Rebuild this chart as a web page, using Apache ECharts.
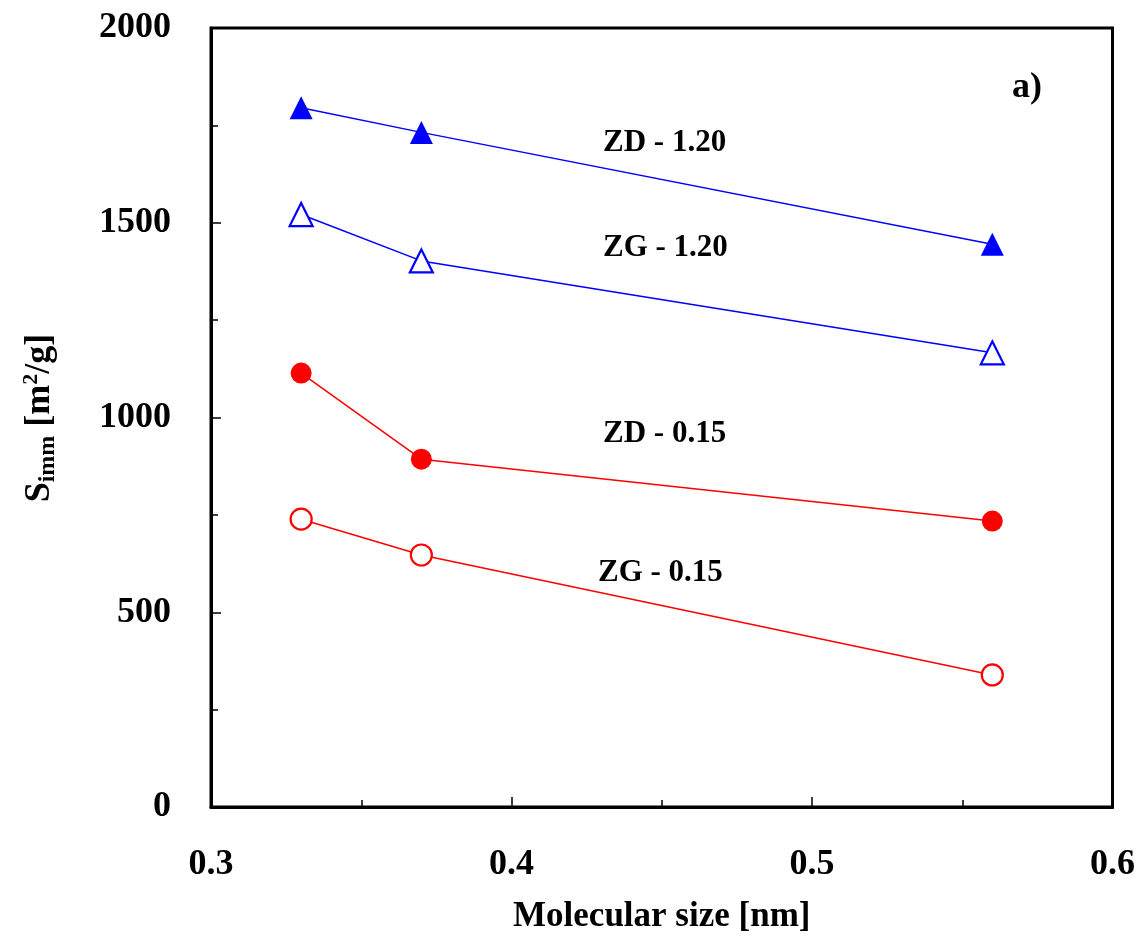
<!DOCTYPE html>
<html>
<head>
<meta charset="utf-8">
<script src="https://cdn.jsdelivr.net/npm/echarts@6/dist/echarts.min.js"></script>
<style>html,body{margin:0;padding:0;background:#fff;}#c{width:1138px;height:941px;}</style>
</head>
<body>
<div id="c"></div>
<script>
const xValues = [0.33, 0.37, 0.56];
const zd120 = [1795, 1732, 1445];
const zg120 = [1521, 1402, 1166];
const zd015 = [1114, 893, 734];
const zg015 = [739, 647, 339];
const seriesNames = ['ZD - 1.20', 'ZG - 1.20', 'ZD - 0.15', 'ZG - 0.15'];
const xTitle = 'Molecular size [nm]';
const panelLabel = 'a)';

const FONT = '"Liberation Serif", "Times New Roman", serif';
const chart = echarts.init(document.getElementById('c'), null, {renderer: 'canvas'});

function pts(ys) { return xValues.map((x, i) => [x, ys[i]]); }

function mk(name, ys, color, symbol, filled) {
  return {
    name: name, type: 'line', data: pts(ys),
    symbol: symbol, symbolSize: symbol === 'triangle' ? 23 : 21,
    lineStyle: {color: color, width: 1.5},
    itemStyle: filled ? {color: color, borderColor: color, borderWidth: 0}
                      : {color: '#fff', borderColor: color, borderWidth: 2.2},
    emphasis: {disabled: true}, z: 3
  };
}

const option = {
  animation: false,
  backgroundColor: '#fff',
  grid: {left: 211, right: 25, top: 28, bottom: 134, show: true, borderColor: '#000', borderWidth: 3},
  xAxis: {
    type: 'value', min: 0.3, max: 0.6, interval: 0.1,
    axisLine: {show: true, lineStyle: {color: '#000', width: 3}},
    axisTick: {show: true, inside: true, length: 10, lineStyle: {color: '#000', width: 1.5}},
    minorTick: {show: true, splitNumber: 2, length: 7, lineStyle: {color: '#000', width: 1.5}},
    splitLine: {show: false},
    axisLabel: {color: '#000', fontFamily: FONT, fontWeight: 'bold', fontSize: 36, margin: 40,
      formatter: v => v.toFixed(1)},
    name: xTitle, nameLocation: 'middle', nameGap: 92,
    nameTextStyle: {color: '#000', fontFamily: FONT, fontWeight: 'bold', fontSize: 35}
  },
  yAxis: {
    type: 'value', min: 0, max: 2000, interval: 500,
    axisLine: {show: true, lineStyle: {color: '#000', width: 3}},
    axisTick: {show: true, inside: true, length: 10, lineStyle: {color: '#000', width: 1.5}},
    minorTick: {show: true, splitNumber: 2, length: 7, lineStyle: {color: '#000', width: 1.5}},
    splitLine: {show: false},
    axisLabel: {color: '#000', fontFamily: FONT, fontWeight: 'bold', fontSize: 36, margin: 40,
      formatter: v => String(v)}
  },
  series: [
    mk(seriesNames[0], zd120, '#0000ff', 'triangle', true),
    mk(seriesNames[1], zg120, '#0000ff', 'triangle', false),
    mk(seriesNames[2], zd015, '#ff0000', 'circle', true),
    mk(seriesNames[3], zg015, '#ff0000', 'circle', false)
  ],
  graphic: [
    {type: 'text', left: 603, top: 127, style: {text: seriesNames[0], font: 'bold 31px ' + FONT, fill: '#000'}},
    {type: 'text', left: 603, top: 232, style: {text: seriesNames[1], font: 'bold 31px ' + FONT, fill: '#000'}},
    {type: 'text', left: 603, top: 418, style: {text: seriesNames[2], font: 'bold 31px ' + FONT, fill: '#000'}},
    {type: 'text', left: 598, top: 557, style: {text: seriesNames[3], font: 'bold 31px ' + FONT, fill: '#000'}},
    {type: 'text', left: 1012, top: 70, style: {text: panelLabel, font: 'bold 36px ' + FONT, fill: '#000'}},
    {
      type: 'text', x: 40, y: 418, rotation: Math.PI / 2,
      style: {
        text: '{s|S}{sub|imm}{n| [m}{sup|2}{n|/g]}',
        align: 'center', verticalAlign: 'middle',
        rich: {
          s: {fontFamily: FONT, fontWeight: 'bold', fontSize: 36, fill: '#000', lineHeight: 40, verticalAlign: 'middle'},
          n: {fontFamily: FONT, fontWeight: 'bold', fontSize: 36, fill: '#000', lineHeight: 40, verticalAlign: 'middle'},
          sub: {fontFamily: FONT, fontWeight: 'bold', fontSize: 24, fill: '#000', lineHeight: 40, verticalAlign: 'bottom', padding: [14, 0, 0, 0]},
          sup: {fontFamily: FONT, fontWeight: 'bold', fontSize: 22, fill: '#000', lineHeight: 40, verticalAlign: 'top', padding: [0, 0, 14, 0]}
        }
      }
    }
  ]
};
chart.setOption(option);
</script>
</body>
</html>
